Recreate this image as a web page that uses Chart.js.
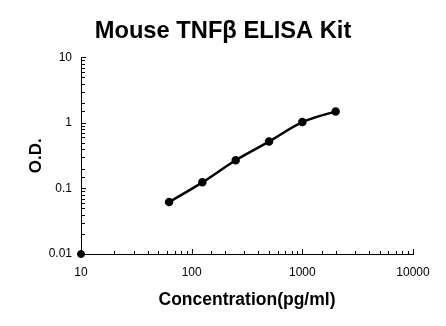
<!DOCTYPE html>
<html>
<head>
<meta charset="utf-8">
<script src="https://cdn.jsdelivr.net/npm/chart.js@4/dist/chart.umd.min.js"></script>
<style>
  html, body { margin: 0; padding: 0; background: #fff; }
  #wrap { width: 446px; height: 326px; }
</style>
</head>
<body>
<div id="wrap"><canvas id="curve"></canvas></div>
<script>
// standard curve readings
const concentrations = [62.5, 125, 250, 500, 1000, 2000];
const odValues = [0.062, 0.124, 0.27, 0.52, 1.03, 1.5];
// zero standard, sits on the axis corner
const blankConc = [10];
const blankOd = [0.01];

const xTickLabels = { 1: "10", 2: "100", 3: "1000", 4: "10000" };
const yTickLabels = { "-2": "0.01", "-1": "0.1", 0: "1", 1: "10" };

const FONT = "'Liberation Sans', Arial, sans-serif";

const decade = (v) => {
  const l = Math.log10(v);
  return Math.abs(l - Math.round(l)) < 1e-6 ? Math.round(l) : null;
};

// little tick marks pointing into the plot
const innerTicks = {
  id: "innerTicks",
  afterDraw(chart) {
    const ctx = chart.ctx;
    const xs = chart.scales.x, ys = chart.scales.y;
    const area = chart.chartArea;
    ctx.save();
    ctx.strokeStyle = "#000";
    ctx.lineWidth = 1;
    ctx.beginPath();
    xs.ticks.forEach((t) => {
      const px = Math.round(xs.getPixelForValue(t.value)) + 0.5;
      const len = decade(t.value) !== null ? 5 : 3;
      ctx.moveTo(px, area.bottom);
      ctx.lineTo(px, area.bottom - len);
    });
    ys.ticks.forEach((t) => {
      const py = Math.round(ys.getPixelForValue(t.value)) + 0.5;
      const len = decade(t.value) !== null ? 5 : 4;
      ctx.moveTo(area.left, py);
      ctx.lineTo(area.left + len, py);
    });
    ctx.stroke();
    ctx.restore();
  }
};

new Chart(document.getElementById("curve"), {
  type: "scatter",
  data: {
    datasets: [
      {
        data: concentrations.map((c, i) => ({ x: c, y: odValues[i] })),
        showLine: true,
        cubicInterpolationMode: "monotone",
        borderColor: "#000",
        backgroundColor: "#000",
        borderWidth: 2.5,
        pointRadius: 3,
        pointHoverRadius: 3
      },
      {
        data: blankConc.map((c, i) => ({ x: c, y: blankOd[i] })),
        showLine: false,
        borderColor: "#000",
        backgroundColor: "#000",
        pointRadius: 3.5,
        clip: false
      }
    ]
  },
  options: {
    responsive: true,
    maintainAspectRatio: false,
    animation: false,
    layout: { padding: 0 },
    plugins: {
      legend: { display: false },
      tooltip: { enabled: false },
      title: {
        display: true,
        text: "Mouse TNFβ ELISA Kit",
        color: "#000",
        font: { family: FONT, size: 23.7, weight: "bold" },
        padding: { top: 17, bottom: 12 }
      }
    },
    scales: {
      x: {
        type: "logarithmic",
        min: 10,
        max: 10000,
        grid: { display: false, drawTicks: false },
        border: { display: true, color: "#000", width: 1 },
        ticks: {
          autoSkip: false,
          maxRotation: 0,
          padding: 11,
          color: "#000",
          font: { family: FONT, size: 12 },
          callback: (v) => {
            const d = decade(v);
            return d !== null && xTickLabels[d] ? xTickLabels[d] : "";
          }
        },
        title: {
          display: true,
          text: "Concentration(pg/ml)",
          color: "#000",
          font: { family: FONT, size: 17.5, weight: "bold" },
          padding: { top: 0, bottom: 15 }
        },
        afterFit: (s) => { s.height = 72; }
      },
      y: {
        type: "logarithmic",
        min: 0.01,
        max: 10,
        grid: { display: false, drawTicks: false },
        border: { display: true, color: "#000", width: 1 },
        ticks: {
          autoSkip: false,
          padding: 9,
          color: "#000",
          font: { family: FONT, size: 12 },
          callback: (v) => {
            const d = decade(v);
            return d !== null && yTickLabels[d] ? yTickLabels[d] : "";
          }
        },
        title: {
          display: true,
          text: "O.D.",
          color: "#000",
          font: { family: FONT, size: 17, weight: "bold" },
          padding: { top: 26, bottom: 0 }
        },
        afterFit: (s) => { s.width = 81; }
      },
      // empty strip on the right that keeps the plot narrower than the title
      side: {
        position: "right",
        display: true,
        grid: { display: false, drawTicks: false },
        border: { display: false },
        ticks: { display: false },
        afterFit: (s) => { s.width = 33; }
      }
    }
  },
  plugins: [innerTicks]
});
</script>
</body>
</html>
